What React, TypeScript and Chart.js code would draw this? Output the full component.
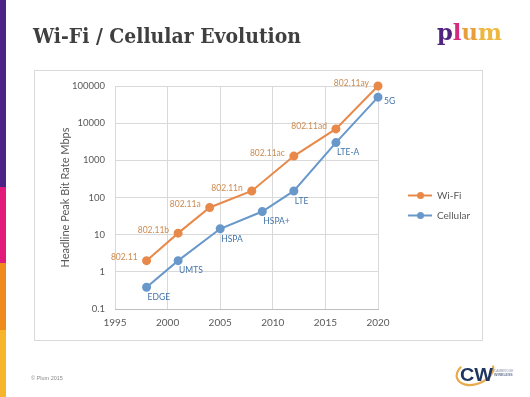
import React, { useEffect, useRef } from "react";
import { Chart, registerables } from "chart.js";

Chart.register(...registerables);

// ---- data ----
const wifiYears = [1998, 2001, 2004, 2008, 2012, 2016, 2020];
const wifiRates = [2, 11, 54, 150, 1300, 7000, 100000];
const wifiNames = ["802.11", "802.11b", "802.11a", "802.11n", "802.11ac", "802.11ad", "802.11ay"];

const cellYears = [1998, 2001, 2005, 2009, 2012, 2016, 2020];
const cellRates = [0.384, 2, 14.4, 42, 150, 3000, 50000];
const cellNames = ["EDGE", "UMTS", "HSPA", "HSPA+", "LTE", "LTE-A", "5G"];

const yTickValues = [0.1, 1, 10, 100, 1000, 10000, 100000];
const yTickLabels = ["0.1", "1", "10", "100", "1000", "10000", "100000"];
const xMin = 1995;
const xMax = 2020;
const xStep = 5;

const seriesNames = ["Wi-Fi", "Cellular"];
const yTitle = "Headline Peak Bit Rate Mbps";

const ORANGE = "#E8894A";
const BLUE = "#6898CA";
const ORANGE_TEXT = "#CC8A50";
const BLUE_TEXT = "#4273A8";
const FONT = "Lato";

const pointLabelPlugin = {
  id: "pointLabels",
  afterDatasetsDraw(chart: any) {
    const ctx = chart.ctx;
    ctx.save();
    ctx.font = `8.5px ${FONT}`;
    ctx.textBaseline = "middle";
    chart.data.datasets.forEach((ds: any, di: number) => {
      const meta = chart.getDatasetMeta(di);
      const names: string[] = ds.pointNames;
      meta.data.forEach((pt: any, i: number) => {
        if (di === 0) {
          ctx.fillStyle = ORANGE_TEXT;
          ctx.textAlign = "right";
          ctx.fillText(names[i], pt.x - 9, pt.y - 3);
        } else {
          ctx.fillStyle = BLUE_TEXT;
          ctx.textAlign = "left";
          if (i === meta.data.length - 1) {
            ctx.fillText(names[i], pt.x + 6, pt.y + 4);
          } else {
            ctx.fillText(names[i], pt.x + 1, pt.y + 10);
          }
        }
      });
    });
    ctx.restore();
  },
};

const legendPlugin = {
  id: "sideLegend",
  afterDraw(chart: any) {
    const ctx = chart.ctx;
    const area = chart.chartArea;
    const cy = (area.top + area.bottom) / 2 + 8;
    ctx.save();
    chart.data.datasets.forEach((ds: any, di: number) => {
      const y = cy + (di === 0 ? -10 : 10);
      const x0 = area.right + 30;
      ctx.strokeStyle = ds.borderColor;
      ctx.lineWidth = 2;
      ctx.beginPath();
      ctx.moveTo(x0, y);
      ctx.lineTo(x0 + 24, y);
      ctx.stroke();
      ctx.fillStyle = ds.backgroundColor;
      ctx.beginPath();
      ctx.arc(x0 + 12.5, y, 3.5, 0, Math.PI * 2);
      ctx.fill();
      ctx.fillStyle = "#595959";
      ctx.font = `10px ${FONT}`;
      ctx.textAlign = "left";
      ctx.textBaseline = "middle";
      ctx.fillText(ds.label, x0 + 29, y);
    });
    ctx.restore();
  },
};

function ChartBox() {
  const ref = useRef<HTMLCanvasElement | null>(null);
  useEffect(() => {
    if (!ref.current) return;
    const chart = new Chart(ref.current, {
      type: "line",
      data: {
        datasets: [
          {
            label: seriesNames[0],
            data: wifiYears.map((x, i) => ({ x, y: wifiRates[i] })),
            borderColor: ORANGE,
            backgroundColor: ORANGE,
            pointBackgroundColor: ORANGE,
            pointBorderColor: ORANGE,
            borderWidth: 2,
            pointRadius: 3.5,
            tension: 0,
            clip: false,
            // @ts-ignore
            pointNames: wifiNames,
          } as any,
          {
            label: seriesNames[1],
            data: cellYears.map((x, i) => ({ x, y: cellRates[i] })),
            borderColor: BLUE,
            backgroundColor: BLUE,
            pointBackgroundColor: BLUE,
            pointBorderColor: BLUE,
            borderWidth: 2,
            pointRadius: 3.5,
            tension: 0,
            clip: false,
            // @ts-ignore
            pointNames: cellNames,
          } as any,
        ],
      },
      options: {
        responsive: false,
        animation: false,
        layout: { padding: { top: 16, right: 105, left: 0, bottom: 0 } },
        plugins: { legend: { display: false }, tooltip: { enabled: false } },
        scales: {
          x: {
            type: "linear",
            min: xMin,
            max: xMax,
            ticks: {
              stepSize: xStep,
              callback: (v: any) => String(v),
              color: "#595959",
              font: { family: FONT, size: 10 },
              padding: 8,
              maxRotation: 0,
            },
            grid: { color: "#D9D9D9", drawTicks: false },
            border: { color: "#BFBFBF" },
            afterFit: (s: any) => {
              s.height = 32;
            },
          },
          y: {
            type: "logarithmic",
            min: 0.1,
            max: 100000,
            afterBuildTicks: (s: any) => {
              s.ticks = yTickValues.map((v) => ({ value: v }));
            },
            ticks: {
              callback: (_v: any, i: number) => yTickLabels[i],
              color: "#595959",
              font: { family: FONT, size: 9.5 },
              padding: 10,
              autoSkip: false,
            },
            grid: { color: "#D9D9D9", drawTicks: false },
            border: { display: false },
            title: {
              display: true,
              text: yTitle,
              color: "#595959",
              font: { family: FONT, size: 11 },
              padding: { top: 25, bottom: 0 },
            },
            afterFit: (s: any) => {
              s.width = 81;
            },
          },
        },
      },
      plugins: [pointLabelPlugin, legendPlugin],
    });
    return () => chart.destroy();
  }, []);
  return (
    <canvas
      ref={ref}
      width={449}
      height={271}
      style={{ position: "absolute", left: 34, top: 70, width: 449, height: 271 }}
    />
  );
}

export default function App() {
  return (
    <div
      style={{
        position: "fixed",
        left: 0,
        top: 0,
        width: 530,
        height: 397,
        background: "#ffffff",
        overflow: "hidden",
      }}
    >
      {/* left colour strip */}
      <div style={{ position: "absolute", left: 0, top: 0, width: 6, height: 187, background: "#4B2387" }} />
      <div style={{ position: "absolute", left: 0, top: 187, width: 6, height: 76, background: "#E01B7B" }} />
      <div style={{ position: "absolute", left: 0, top: 263, width: 6, height: 67, background: "#EF8A1E" }} />
      <div style={{ position: "absolute", left: 0, top: 330, width: 6, height: 67, background: "#F7B52C" }} />

      {/* chart frame */}
      <div
        style={{
          position: "absolute",
          left: 34,
          top: 70,
          width: 449,
          height: 271,
          border: "1px solid #D9D9D9",
          boxSizing: "border-box",
        }}
      />
      <ChartBox />

      <svg
        width={530}
        height={397}
        style={{ position: "absolute", left: 0, top: 0, pointerEvents: "none" }}
      >
        <text
          x={33}
          y={43}
          fontFamily="DejaVu Serif"
          fontWeight="bold"
          fontSize={21}
          fill="#3F3F3F"
          textLength={268}
          lengthAdjust="spacingAndGlyphs"
        >
          Wi-Fi / Cellular Evolution
        </text>
        <text
          x={437}
          y={40}
          fontFamily="DejaVu Serif"
          fontWeight="bold"
          fontSize={23}
          textLength={65}
          lengthAdjust="spacingAndGlyphs"
        >
          <tspan fill="#50237F">p</tspan>
          <tspan fill="#D42A80">l</tspan>
          <tspan fill="#E99E3C">u</tspan>
          <tspan fill="#EDB840">m</tspan>
        </text>
        <text x={31} y={380} fontFamily="Liberation Sans" fontSize={5.5} fill="#8A8A8A">
          © Plum 2015
        </text>
        {/* CW logo */}
        <g>
          <ellipse
            cx={475}
            cy={372}
            rx={19}
            ry={12}
            fill="none"
            stroke="#E9A94A"
            strokeWidth={2.2}
            strokeDasharray="62 40"
            transform="rotate(-20 475 372)"
          />
          <text
            x={460}
            y={381}
            fontFamily="Liberation Sans"
            fontWeight="bold"
            fontSize={19}
            fill="#1F3760"
            textLength={33}
            lengthAdjust="spacingAndGlyphs"
          >
            CW
          </text>
          <text x={494} y={372} fontFamily="Liberation Sans" fontSize={3.2} fill="#8A94A8">
            CAMBRIDGE
          </text>
          <text x={494} y={376} fontFamily="Liberation Sans" fontWeight="bold" fontSize={3.6} fill="#6B7A95">
            WIRELESS
          </text>
        </g>
      </svg>
    </div>
  );
}
